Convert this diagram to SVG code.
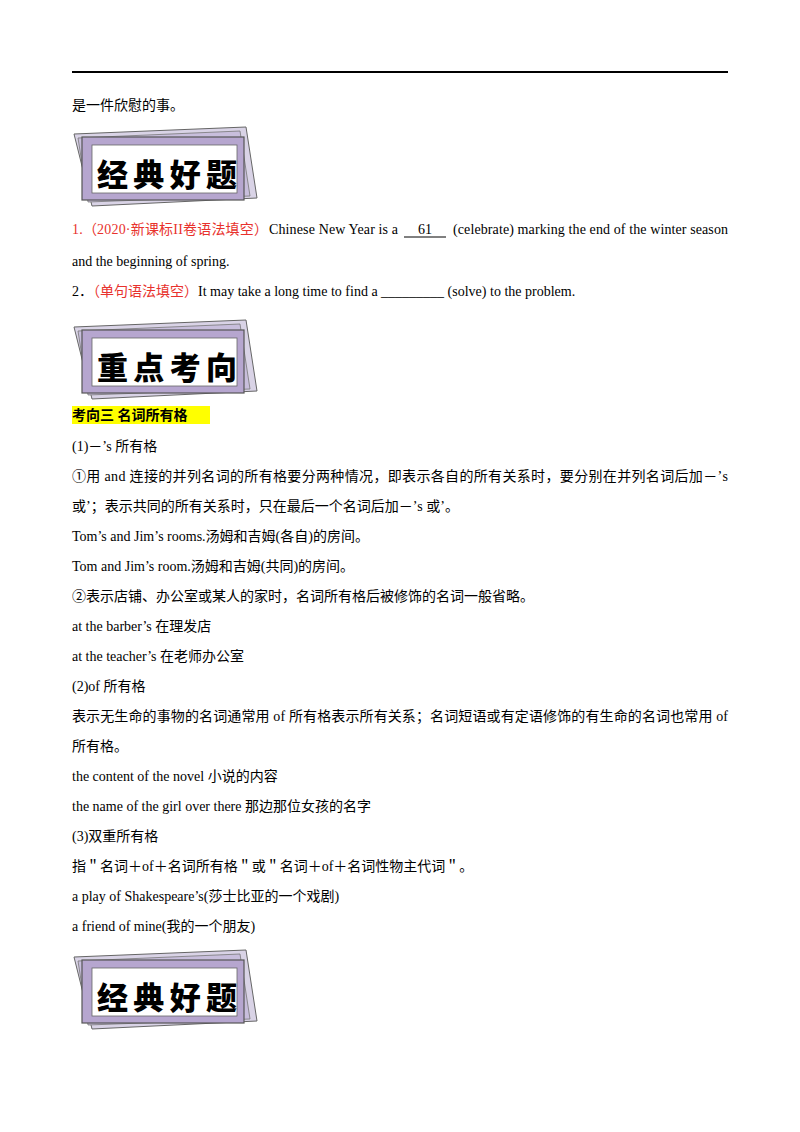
<svg xmlns="http://www.w3.org/2000/svg" xmlns:xlink="http://www.w3.org/1999/xlink" width="800" height="1132" viewBox="0 0 800 1132">
<style>
text{font-family:"Liberation Serif","Noto Sans CJK SC",serif;font-size:14px;fill:#000}
.red{fill:#e8322d}
.bt{font-family:"Noto Sans CJK SC",sans-serif;font-size:31px;font-weight:900;fill:#000}
</style>
<defs>
<g id="frame">
<polygon points="74,134 246,127 257,198 92,206" fill="#d9d3e6" stroke="#666" stroke-width="1"/>
<polygon points="78,138 240,131 250,196 88,202" fill="#c8bedc" stroke="#777" stroke-width="0.8"/>
<rect x="82" y="137" width="162" height="63" fill="#b6a6cf" stroke="#555" stroke-width="1.2"/>
<rect x="92" y="145" width="145" height="48" fill="#fff" stroke="#666" stroke-width="0.8"/>
</g>
</defs>
<rect width="800" height="1132" fill="#fff"/>
<line x1="72" y1="72" x2="728" y2="72" stroke="#000" stroke-width="2"/>
<text x="72" y="110">是一件欣慰的事。</text>
<g id="banner1"><use xlink:href="#frame"/><text class="bt" x="97" y="186" textLength="140">经典好题</text></g>
<text x="72" y="234" class="red" textLength="196">1.（2020·新课标II卷语法填空）</text>
<text x="269" y="234" textLength="129">Chinese New Year is a</text>
<text x="425" y="234" text-anchor="middle">61</text>
<line x1="404" y1="237" x2="446" y2="237" stroke="#000" stroke-width="1"/>
<text x="453" y="234" textLength="275">(celebrate) marking the end of the winter season</text>
<text x="72" y="266">and the beginning of spring.</text>
<text x="72" y="296">2．<tspan class="red">（单句语法填空）</tspan>It may take a long time to find a _________ (solve) to the problem.</text>
<g id="banner2" transform="translate(0,193)"><use xlink:href="#frame"/><text class="bt" x="97" y="186" textLength="140">重点考向</text></g>
<rect x="72" y="406" width="138" height="18" fill="#ffff00"/>
<text x="72" y="420" font-weight="bold">考向三  名词所有格</text>
<text x="72" y="451">(1)－’s 所有格</text>
<text x="72" y="481" textLength="656">①用 and 连接的并列名词的所有格要分两种情况，即表示各自的所有关系时，要分别在并列名词后加－’s</text>
<text x="72" y="511">或’；表示共同的所有关系时，只在最后一个名词后加－’s 或’。</text>
<text x="72" y="541">Tom’s and Jim’s rooms.汤姆和吉姆(各自)的房间。</text>
<text x="72" y="571">Tom and Jim’s room.汤姆和吉姆(共同)的房间。</text>
<text x="72" y="601">②表示店铺、办公室或某人的家时，名词所有格后被修饰的名词一般省略。</text>
<text x="72" y="631">at the barber’s 在理发店</text>
<text x="72" y="661">at the teacher’s 在老师办公室</text>
<text x="72" y="691">(2)of 所有格</text>
<text x="72" y="721" textLength="656">表示无生命的事物的名词通常用 of 所有格表示所有关系；名词短语或有定语修饰的有生命的名词也常用 of</text>
<text x="72" y="751">所有格。</text>
<text x="72" y="781">the content of the novel 小说的内容</text>
<text x="72" y="811">the name of the girl over there 那边那位女孩的名字</text>
<text x="72" y="841">(3)双重所有格</text>
<text x="72" y="871">指＂名词＋of＋名词所有格＂或＂名词＋of＋名词性物主代词＂。</text>
<text x="72" y="901">a play of Shakespeare’s(莎士比亚的一个戏剧)</text>
<text x="72" y="931">a friend of mine(我的一个朋友)</text>
<g id="banner3" transform="translate(0,823)"><use xlink:href="#frame"/><text class="bt" x="97" y="186" textLength="140">经典好题</text></g>
</svg>
